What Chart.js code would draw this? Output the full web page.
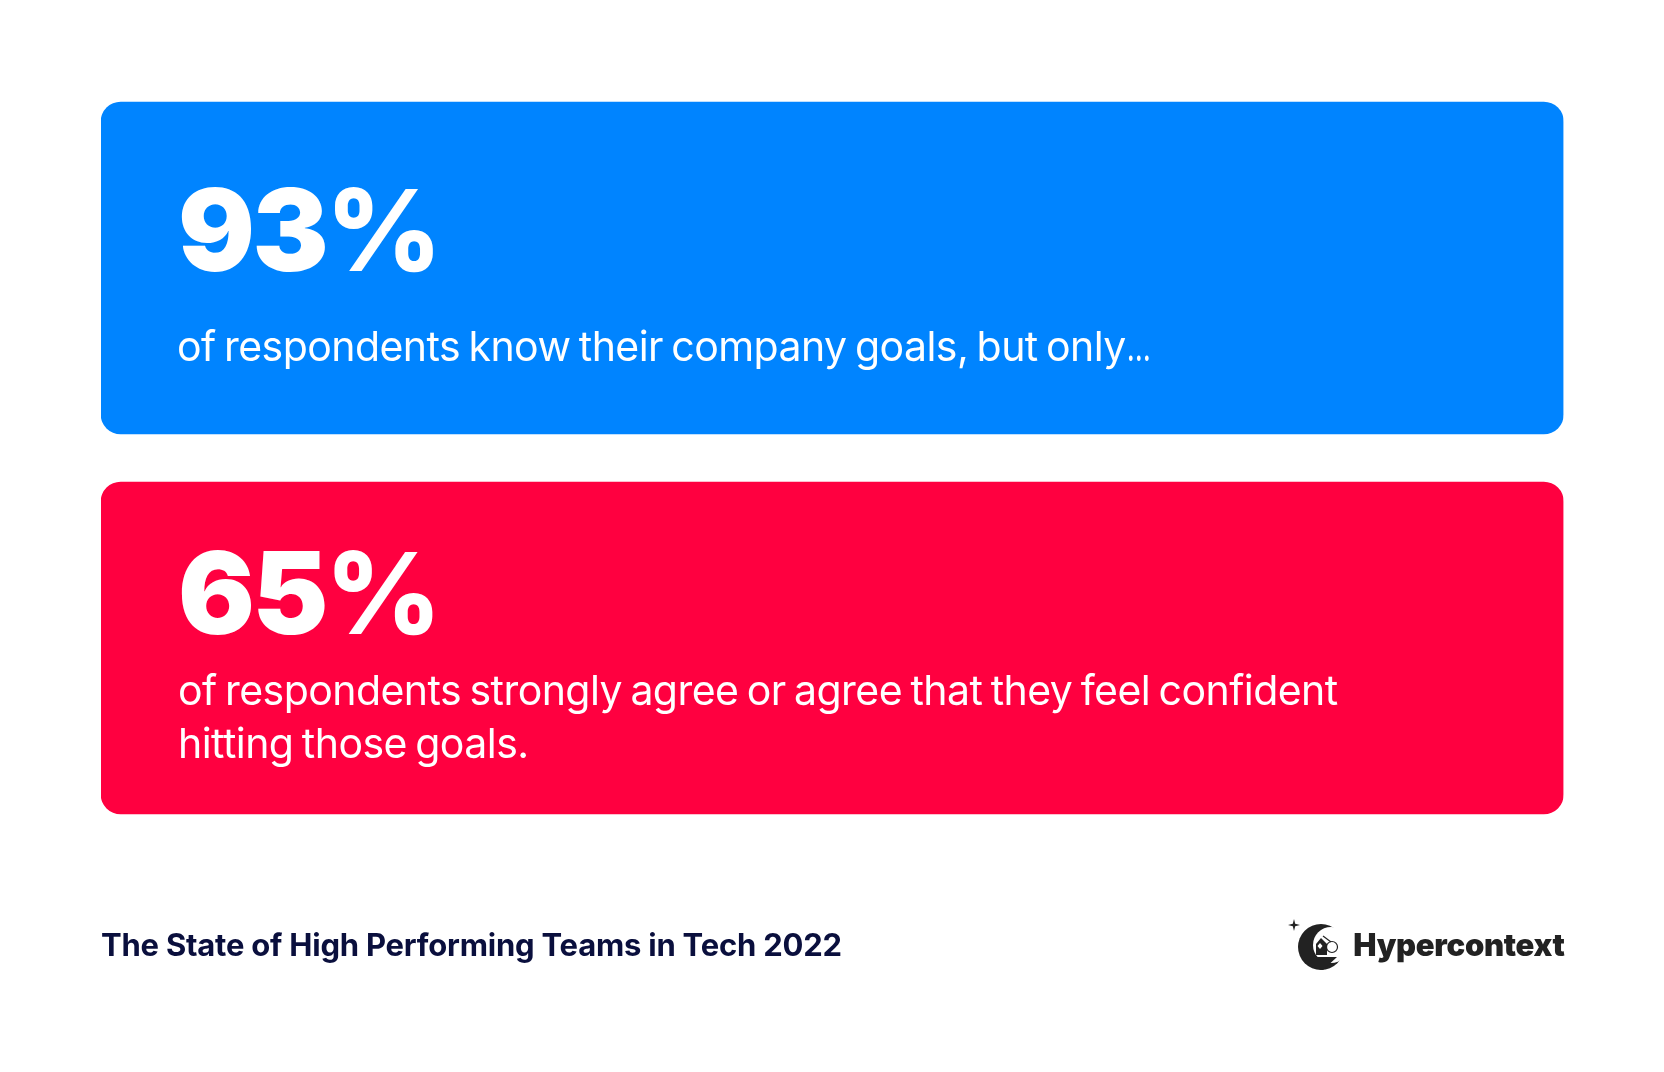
<!DOCTYPE html>
<html>
<head>
<meta charset="utf-8">
<title>The State of High Performing Teams in Tech 2022</title>
<script src="https://cdn.jsdelivr.net/npm/chart.js@4/dist/chart.umd.min.js"></script>
<style>
  html, body { margin: 0; padding: 0; background: #fff; overflow: hidden; }
  canvas { display: block; }
</style>
</head>
<body>
<canvas id="chart" width="1664" height="1072"></canvas>
<script>
const categories = ['Know company goals', 'Confident hitting goals'];
const percentages = [93, 65];
const cardSpan = [100, 100];
const cardColors = ['#0084ff', '#ff0040'];
const captions = [
  ['of respondents know their company goals, but only…'],
  ['of respondents strongly agree or agree that they feel confident', 'hitting those goals.']
];
const sourceText = 'The State of High Performing Teams in Tech 2022';
const brandText = 'Hypercontext';

// The reference has a tight ellipsis, so it gets squeezed on its own
function fillCaption(ctx, line, x, y) {
  if (!line.endsWith('…')) {
    ctx.fillText(line, x, y);
    return;
  }
  const body = line.slice(0, -1);
  ctx.fillText(body, x, y);
  ctx.save();
  ctx.translate(x + ctx.measureText(body).width + 1, y);
  ctx.scale(0.68, 1);
  ctx.fillText('…', 0, 0);
  ctx.restore();
}

// Digits are heavier than the percent sign in the reference
function fillPercent(ctx, value, x, y) {
  ctx.font = '900 114px Inter';
  ctx.letterSpacing = '-2.5px';
  ctx.fillText(String(value), x, y);
  const w = ctx.measureText(String(value)).width;
  ctx.font = '800 113px Inter';
  ctx.letterSpacing = '0px';
  ctx.fillText('%', x + w - 0.5, y);
}

// Text on the cards and the footer, placed from the bar positions
const cardText = {
  id: 'cardText',
  afterDatasetsDraw(chart) {
    const ctx = chart.ctx;
    const bars = chart.getDatasetMeta(0).data;
    const left = chart.scales.x.left;
    ctx.save();
    ctx.textAlign = 'left';
    ctx.textBaseline = 'alphabetic';
    ctx.fillStyle = '#fff';
    bars.forEach((bar, i) => {
      const top = bar.y - bar.height / 2;
      fillPercent(ctx, percentages[i], left + 77, top + (i === 0 ? 169 : 152));
      ctx.font = '400 41px Inter';
      ctx.letterSpacing = '-0.55px';
      ctx.wordSpacing = '-2.6px';
      captions[i].forEach((line, j) => {
        fillCaption(ctx, line, left + (i === 0 ? 76 : 77), top + (i === 0 ? 259 : 223 + j * 53));
      });
      ctx.wordSpacing = '0px';
    });
    ctx.fillStyle = '#0a0f3d';
    ctx.font = '700 31px Inter';
    ctx.letterSpacing = '-0.22px';
    ctx.fillText(sourceText, left, 956);
    ctx.fillStyle = '#222';
    ctx.font = '900 31px Inter';
    ctx.letterSpacing = '-0.3px';
    ctx.textAlign = 'right';
    ctx.fillText(brandText, chart.scales.x.right + 1, 956);
    ctx.restore();
    drawLogo(ctx);
  }
};

// Moon logo next to the brand name
function drawLogo(ctx) {
  ctx.save();
  ctx.fillStyle = '#222';
  ctx.beginPath();
  ctx.arc(1321, 947, 23, 0, Math.PI * 2);
  ctx.fill();
  ctx.fillStyle = '#fff';
  ctx.beginPath();
  ctx.arc(1331, 945, 18, 0, Math.PI * 2);
  ctx.fill();
  ctx.fillStyle = '#222';
  // band under the helmet
  ctx.beginPath();
  ctx.moveTo(1314, 957);
  ctx.lineTo(1337, 957);
  ctx.lineTo(1323, 970);
  ctx.lineTo(1314, 968);
  ctx.closePath();
  ctx.fill();
  // star
  ctx.beginPath();
  ctx.moveTo(1294, 919);
  ctx.lineTo(1295.2, 923.8);
  ctx.lineTo(1300, 925);
  ctx.lineTo(1295.2, 926.2);
  ctx.lineTo(1294, 931);
  ctx.lineTo(1292.8, 926.2);
  ctx.lineTo(1288, 925);
  ctx.lineTo(1292.8, 923.8);
  ctx.closePath();
  ctx.fill();
  // head
  ctx.beginPath();
  ctx.moveTo(1321, 938);
  ctx.lineTo(1327, 944);
  ctx.lineTo(1327, 955);
  ctx.lineTo(1316, 955);
  ctx.lineTo(1316, 944);
  ctx.closePath();
  ctx.fill();
  ctx.fillStyle = '#fff';
  ctx.beginPath();
  ctx.moveTo(1320, 943);
  ctx.lineTo(1322.5, 946);
  ctx.lineTo(1320, 949);
  ctx.lineTo(1317.5, 946);
  ctx.closePath();
  ctx.fill();
  // glasses
  ctx.strokeStyle = '#222';
  ctx.lineWidth = 1.2;
  ctx.beginPath();
  ctx.arc(1332, 947, 5.5, 0, Math.PI * 2);
  ctx.stroke();
  ctx.beginPath();
  ctx.moveTo(1323, 936);
  ctx.lineTo(1331, 942);
  ctx.stroke();
  ctx.restore();
}

new Chart(document.getElementById('chart'), {
  type: 'bar',
  data: {
    labels: categories,
    datasets: [{
      data: cardSpan,
      backgroundColor: cardColors,
      borderRadius: 20,
      borderSkipped: false,
      barThickness: 332
    }]
  },
  options: {
    indexAxis: 'y',
    responsive: false,
    animation: false,
    layout: { padding: { left: 101, right: 100.5, top: 78, bottom: 234 } },
    plugins: { legend: { display: false }, tooltip: { enabled: false } },
    scales: {
      x: { display: false, min: 0, max: 100 },
      y: { display: false }
    }
  },
  plugins: [cardText]
});
</script>
</body>
</html>
